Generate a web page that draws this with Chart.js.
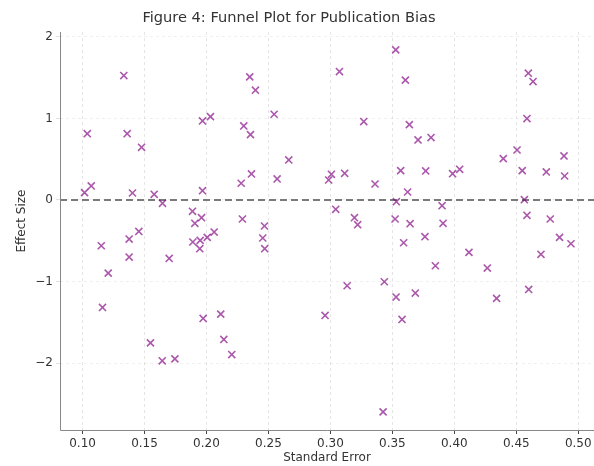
<!DOCTYPE html>
<html>
<head>
<meta charset="utf-8">
<script src="https://cdn.jsdelivr.net/npm/chart.js@4/dist/chart.umd.min.js"></script>
<style>
  html, body { margin: 0; padding: 0; background: #fff; }
  #wrap { width: 594px; height: 466px; position: relative; }
</style>
</head>
<body>
<div id="wrap"><canvas id="c" width="594" height="466"></canvas></div>
<script>
// ---- Data ----
const chartTitle = "Figure 4: Funnel Plot for Publication Bias";
const xAxisLabel = "Standard Error";
const yAxisLabel = "Effect Size";

const standardError = [
  0.1333, 0.1038, 0.1360, 0.1476, 0.1016, 0.1070, 0.1403, 0.1578, 0.1645, 0.1968,
  0.2032, 0.1968, 0.1887, 0.1906, 0.1960, 0.1151, 0.1376, 0.1454, 0.1376, 0.1699,
  0.1207, 0.1161, 0.1890, 0.1949, 0.1946, 0.2006, 0.2062, 0.1973, 0.2115, 0.2140,
  0.2204, 0.1548, 0.1643, 0.1745, 0.2349, 0.2395, 0.2301, 0.2355, 0.2546, 0.2664,
  0.2363, 0.2280, 0.2570, 0.2290, 0.2468, 0.2454, 0.2470, 0.3073, 0.3008, 0.2986,
  0.3115, 0.3269, 0.3360, 0.3043, 0.3194, 0.3220, 0.3527, 0.3605, 0.3567, 0.3623,
  0.3532, 0.3522, 0.3643, 0.3135, 0.2957, 0.3435, 0.3530, 0.3578, 0.3425, 0.3591,
  0.3637, 0.3707, 0.3812, 0.3769, 0.3986, 0.4043, 0.3901, 0.3909, 0.4597, 0.4635,
  0.4586, 0.4506, 0.4395, 0.4548, 0.4742, 0.4885, 0.4890, 0.4565, 0.4586, 0.4774,
  0.3763, 0.3847, 0.3685, 0.4118, 0.4266, 0.4341, 0.4849, 0.4941, 0.4699, 0.4600
];
const effectSize = [
  1.525, 0.813, 0.813, 0.646, 0.090, 0.172, 0.086, 0.070, -0.041, 0.969,
  1.022, 0.114, -0.139, -0.286, -0.217, -0.561, -0.479, -0.385, -0.699, -0.716,
  -0.896, -1.317, -0.515, -0.495, -0.597, -0.458, -0.393, -1.452, -1.399, -1.709,
  -1.894, -1.751, -1.971, -1.947, 1.509, 1.346, 0.908, 0.801, 1.051, 0.491,
  0.319, 0.205, 0.258, -0.233, -0.319, -0.466, -0.597, 1.574, 0.315, 0.245,
  0.327, 0.961, 0.196, -0.114, -0.217, -0.303, 1.840, 1.469, 0.360, 0.098,
  -0.021, -0.233, -0.290, -1.051, -1.415, -1.002, -1.190, -1.464, -2.597, -0.524,
  0.924, 0.736, 0.765, 0.356, 0.322, 0.376, -0.070, -0.286, 1.554, 1.452,
  0.998, 0.613, 0.507, 0.360, 0.344, 0.540, 0.294, 0.004, -0.188, -0.233,
  -0.450, -0.806, -1.141, -0.642, -0.834, -1.206, -0.458, -0.536, -0.666, -1.096
];
const referenceEffect = 0;                 // dashed horizontal reference line
const xTicks = [0.10, 0.15, 0.20, 0.25, 0.30, 0.35, 0.40, 0.45, 0.50];
const yTicks = [-2, -1, 0, 1, 2];
const xRange = [0.0818, 0.5127];
const yRange = [-2.819, 2.059];

// ---- Build datasets ----
const points = standardError.map((se, i) => ({ x: se, y: effectSize[i] }));
const refLine = [{ x: xRange[0], y: referenceEffect }, { x: xRange[1], y: referenceEffect }];

const FONT = "'DejaVu Sans', sans-serif";

const textPlugin = {
  id: 'texts',
  afterDatasetsDraw(chart) {
    const ctx = chart.ctx;
    const a = chart.chartArea;
    ctx.save();
    // spines (left and bottom)
    ctx.strokeStyle = '#888888';
    ctx.lineWidth = 1;
    ctx.setLineDash([]);
    ctx.beginPath();
    ctx.moveTo(a.left + 0.5, a.top);
    ctx.lineTo(a.left + 0.5, a.bottom + 0.5);
    ctx.lineTo(a.right, a.bottom + 0.5);
    ctx.stroke();
    ctx.restore();
  },
  afterDraw(chart) {
    const ctx = chart.ctx;
    const a = chart.chartArea;
    ctx.save();
    ctx.fillStyle = '#333333';
    ctx.textAlign = 'center';
    ctx.textBaseline = 'middle';
    ctx.font = "14.6px " + FONT;
    ctx.fillText(chartTitle, 289, 18);
    ctx.font = "12px " + FONT;
    ctx.fillText(xAxisLabel, (a.left + a.right) / 2, 458);
    ctx.translate(22, 221);
    ctx.rotate(-Math.PI / 2);
    ctx.fillText(yAxisLabel, 0, 0);
    ctx.restore();
  }
};

new Chart(document.getElementById('c'), {
  type: 'scatter',
  data: {
    datasets: [
      {
        type: 'line',
        data: refLine,
        borderColor: '#7a7a7a',
        borderWidth: 2,
        borderDash: [7, 4],
        pointRadius: 0,
        fill: false,
        order: 2
      },
      {
        data: points,
        pointStyle: 'crossRot',
        pointRadius: 5,
        pointHoverRadius: 5,
        borderWidth: 1.6,
        borderColor: 'rgba(128,0,128,0.66)',
        backgroundColor: 'rgba(128,0,128,0.66)',
        order: 1
      }
    ]
  },
  options: {
    responsive: false,
    animation: false,
    events: [],
    layout: { autoPadding: false, padding: { top: 32, left: 0, right: 0, bottom: 0 } },
    plugins: { legend: { display: false }, tooltip: { enabled: false }, title: { display: false } },
    scales: {
      x: {
        type: 'linear',
        min: xRange[0], max: xRange[1],
        afterBuildTicks(scale) { scale.ticks = xTicks.map(v => ({ value: v })); },
        afterFit(scale) { scale.height = 36; scale.paddingRight = 0; scale.paddingLeft = 0; },
        ticks: {
          autoSkip: false, maxRotation: 0, padding: 3,
          color: '#333333', font: { family: FONT, size: 12 },
          callback: v => Number(v).toFixed(2)
        },
        grid: {
          color: 'rgba(0,0,0,0.10)', lineWidth: 1,
          drawTicks: true, tickLength: 4, tickColor: '#444444', tickBorderDash: [], tickWidth: 1
        },
        border: { display: false, dash: [3, 3] }
      },
      y: {
        type: 'linear',
        min: yRange[0], max: yRange[1],
        afterBuildTicks(scale) { scale.ticks = yTicks.map(v => ({ value: v })); },
        afterFit(scale) { scale.width = 60; scale.paddingTop = 0; scale.paddingBottom = 0; },
        ticks: {
          padding: 3, color: '#333333', font: { family: FONT, size: 12 },
          callback: v => String(v).replace('-', '\u2212')
        },
        grid: {
          color: 'rgba(0,0,0,0.06)', lineWidth: 1,
          drawTicks: true, tickLength: 4, tickColor: 'rgba(0,0,0,0.12)', tickBorderDash: [], tickWidth: 1
        },
        border: { display: false, dash: [3, 3] }
      }
    }
  },
  plugins: [textPlugin]
});
</script>
</body>
</html>
